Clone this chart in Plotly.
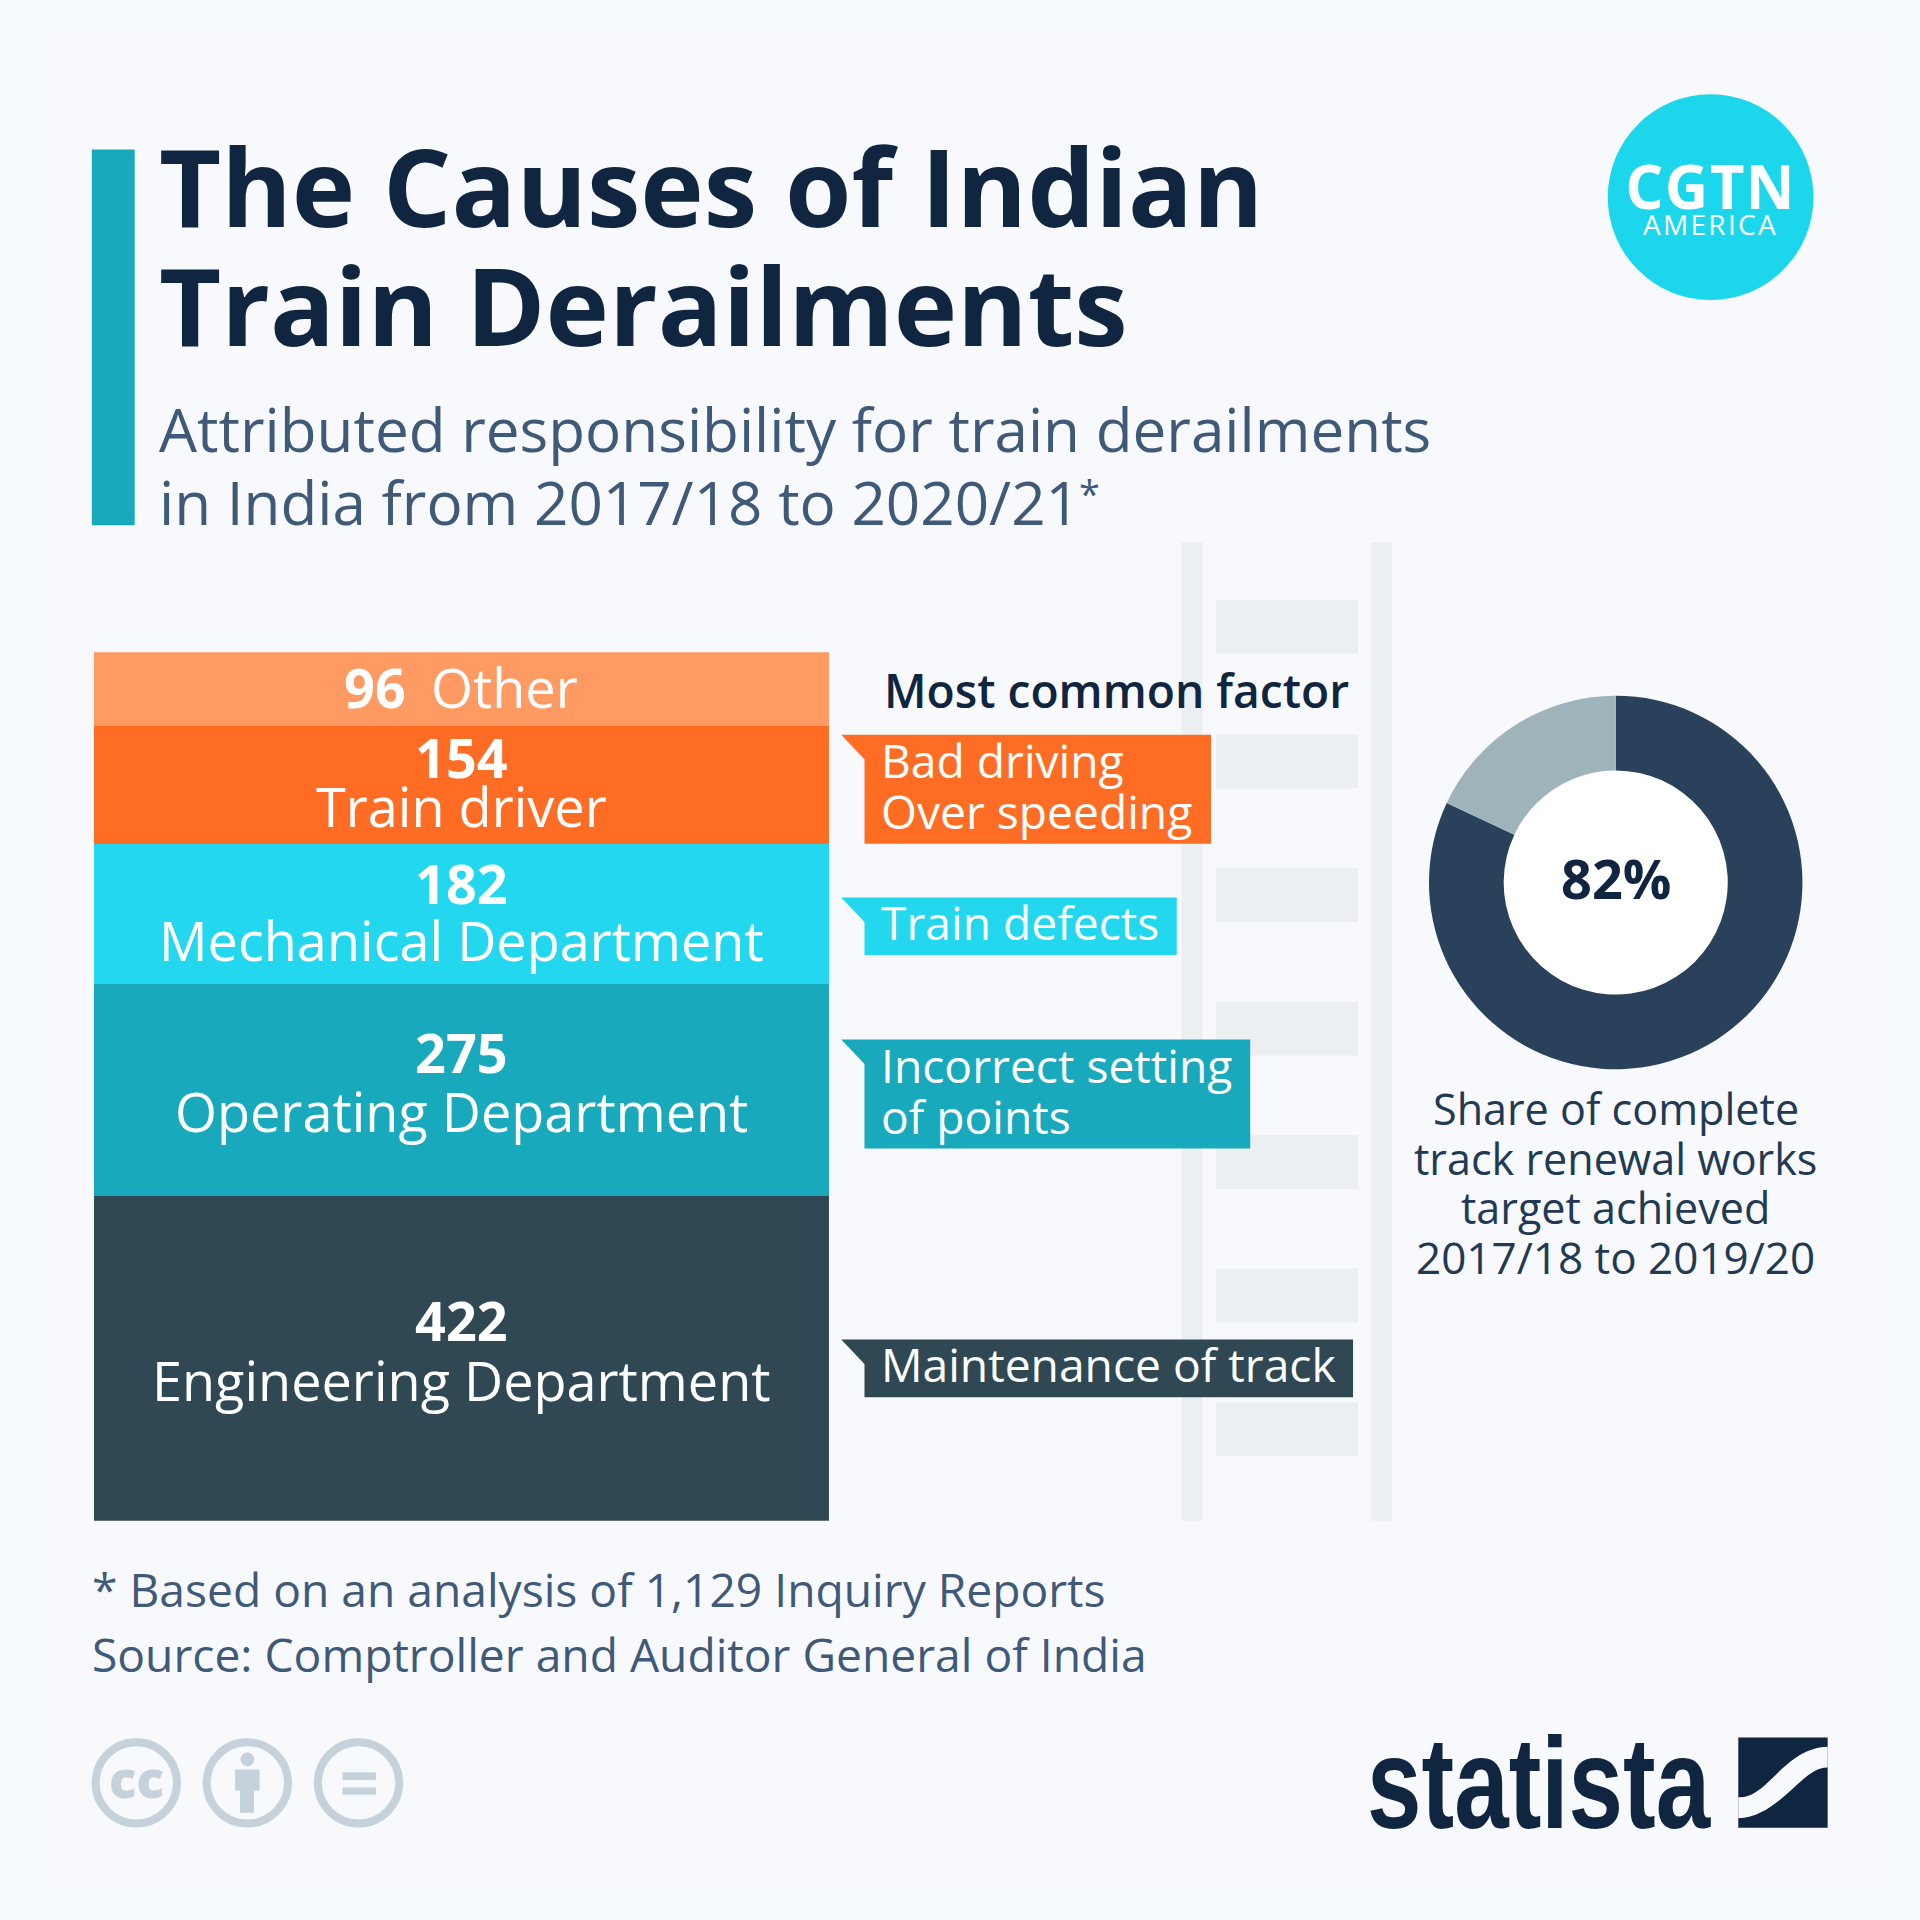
import plotly.graph_objects as go

# ---------- data ----------
categories = ["Engineering Department", "Operating Department", "Mechanical Department", "Train driver", "Other"]
derailments = [422, 275, 182, 154, 96]
bar_colors = ["#304853", "#18A9BD", "#22D7EE", "#FF6D24", "#FF9A63"]

factor_labels = [["Maintenance of track"], ["Incorrect setting", "of points"], ["Train defects"], ["Bad driving", "Over speeding"]]

donut_labels = ["Achieved", "Not achieved"]
donut_values = [82, 18]
donut_colors = ["#2A415B", "#9FB3BA"]
donut_center_text = "82%"
donut_caption = ["Share of complete", "track renewal works", "target achieved", "2017/18 to 2019/20"]

title_lines = ["The Causes of Indian", "Train Derailments"]
subtitle_lines = ["Attributed responsibility for train derailments", "in India from 2017/18 to 2020/21"]
footer_lines = ["* Based on an analysis of 1,129 Inquiry Reports", "Source: Comptroller and Auditor General of India"]

# ---------- layout helpers: positions given on a 1568-wide design grid ----------
G = 1568.0
BG = "#F7F9FD"
NAVY = "#0F2540"
SLATE = "#3F5A78"
F = "Open Sans"
TRACK = "#EBEFF1"


def px(x):
    return x / G


def py(y):
    return 1 - y / G


shapes = []
annotations = []


def rect(x0, y0, x1, y1, color, layer="below"):
    shapes.append(dict(type="rect", xref="paper", yref="paper", x0=px(x0), x1=px(x1), y0=py(y0), y1=py(y1),
                       fillcolor=color, line_width=0, layer=layer))


def circle(cx, cy, r, fill, line=None, lw=0, layer="below"):
    shapes.append(dict(type="circle", xref="paper", yref="paper", x0=px(cx - r), x1=px(cx + r), y0=py(cy + r), y1=py(cy - r),
                       fillcolor=fill, line=dict(color=line or fill, width=lw), layer=layer))


def poly(path, color, layer="above"):
    d = ""
    for cmd in path:
        d += cmd[0] + " " + " ".join(f"{px(cmd[i]):.5f},{py(cmd[i+1]):.5f}" for i in range(1, len(cmd), 2)) + " "
    d += "Z"
    shapes.append(dict(type="path", xref="paper", yref="paper", path=d, fillcolor=color, line_width=0, layer=layer))


def text(x, y, s, size, color, anchor="left", weight=400, family=F):
    annotations.append(dict(xref="paper", yref="paper", x=px(x), y=py(y), text=s, showarrow=False,
                            xanchor=anchor, yanchor="middle", align=anchor, borderpad=0,
                            font=dict(family=family, size=size, color=color, weight=weight)))


# page panel
rect(0, 0, G, G, "#F5FAFD")
rect(28, 28, G - 28, G - 28, BG)

# title block
rect(75, 122, 110, 429, "#18A9BD")
for s, y in zip(title_lines, [151, 248]):
    text(129, y, s, 107.4, NAVY, weight=700)
for s, y in zip(subtitle_lines, [350, 410]):
    text(129, y, s, 60.2, SLATE)
text(880, 403, "*", 38, SLATE)

# CGTN badge
circle(1397, 161, 84, "#1CD6EC")
text(1397, 152, "CGTN", 60, "white", "center", 700)
text(1397, 183, "AMERICA", 28, "white", "center", 400)

# track decoration
rect(965, 443, 982, 1242, TRACK)
rect(1120, 443, 1137, 1242, TRACK)
for y in [490, 600, 709, 818, 927, 1036, 1145]:
    rect(993, y, 1109, y + 44, TRACK)

# bar labels
bar_label_y = [(1078, 1127), (859, 907), (721, 768), (618, 658)]
for v, c, (y1, y2) in zip(derailments[:4], categories[:4], bar_label_y):
    text(377, y1, str(v), 54, "white", "center", 700)
    text(377, y2, c, 54, "white", "center")
text(306, 561, str(derailments[4]), 54, "white", "center", 700)
text(412, 561, categories[4], 54, "white", "center")

# factor tags
text(721, 564, "Most common factor", 46.2, NAVY, weight=600)
tag_boxes = [(1094, 1141, 1105), (849, 938, 1021), (733, 780, 961), (600, 689, 989)]
tag_line_y = [[1114], [870, 912], [753], [621, 663]]
for lines, color, (top, bot, right), ys in zip(factor_labels, bar_colors[:4], tag_boxes, tag_line_y):
    poly([("M", 687, top), ("L", right, top), ("L", right, bot), ("L", 706, bot), ("L", 706, top + 20)], color)
    for s, y in zip(lines, ys):
        text(719, y, s, 46.2, "white")

# donut centre + caption
circle(1319.5, 721, 92, "white")
text(1319.5, 717, donut_center_text, 54, NAVY, "center", 700)
for s, y, size in zip(donut_caption, [905.5, 946, 986.5, 1026.5], [43.1, 43.1, 43.1, 44]):
    text(1319.5, y, s, size, "#1F3A52", "center")

# footer
for s, y in zip(footer_lines, [1298, 1351]):
    text(74, y, s, 46.2, SLATE)

# cc icons
CC = "#C5D2DB"
for cx in [111.3, 202, 292.8]:
    circle(cx, 1456, 33.2, "rgba(0,0,0,0)", CC, 8)
text(111.5, 1452, "cc", 51, CC, "center", 800)
circle(202, 1436.8, 5.6, CC)
poly([("M", 192, 1445), ("L", 212, 1445), ("L", 212, 1462.4), ("L", 207.4, 1462.4), ("L", 207.4, 1480.4), ("L", 196, 1480.4), ("L", 196, 1462.4), ("L", 192, 1462.4)], CC)
rect(279.8, 1447.4, 307, 1453.7, CC)
rect(279.8, 1459.7, 307, 1465.8, CC)

# statista logo
text(1257, 1456, "statista", 98, NAVY, "center", 700, "Liberation Sans")
poly([("M", 1419.6, 1419), ("L", 1492.6, 1419), ("L", 1492.6, 1492.6), ("L", 1419.6, 1492.6)], NAVY)
poly([("M", 1492.6, 1426.5), ("C", 1456.4, 1427.8, 1443.6, 1469.2, 1419.6, 1467.8), ("L", 1419.6, 1485),
      ("C", 1454, 1483.6, 1471.4, 1442.8, 1492.6, 1443.4)], BG)

# ---------- traces ----------
fig = go.Figure()
for c, v, col in zip(categories, derailments, bar_colors):
    fig.add_trace(go.Bar(x=["Derailments"], y=[v], name=c, marker=dict(color=col, line_width=0), hoverinfo="name+y"))

fig.add_trace(go.Pie(labels=donut_labels, values=donut_values, hole=0.6, sort=False, direction="clockwise", rotation=0,
                     marker=dict(colors=donut_colors, line_width=0), textinfo="none", showlegend=False,
                     domain=dict(x=[px(1319.5 - 152.5), px(1319.5 + 152.5)], y=[py(720.7 + 152.5), py(720.7 - 152.5)])))

fig.update_layout(
    width=1920, height=1920, margin=dict(l=0, r=0, t=0, b=0, autoexpand=False),
    paper_bgcolor=BG, plot_bgcolor="rgba(0,0,0,0)", showlegend=False, barmode="stack", bargap=0,
    xaxis=dict(domain=[px(76.7), px(677)], visible=False, fixedrange=True),
    yaxis=dict(domain=[py(1242), py(532.7)], range=[0, sum(derailments)], visible=False, fixedrange=True),
    shapes=shapes, annotations=annotations,
)
post = """
document.body.style.margin='0';
document.querySelectorAll('.annotation text').forEach(function(t){
  var s=t.textContent;
  if(s==='statista'){
    t.style.transformBox='fill-box'; t.style.transformOrigin='center'; t.style.transform='scaleY(1.32)';
  }
  if(s==='CGTN'){ t.style.letterSpacing='1.4px'; }
  if(s==='AMERICA'){ t.style.letterSpacing='2.3px'; }
});
"""
fig.write_html("out.html", config={"displayModeBar": False}, post_script=post)
